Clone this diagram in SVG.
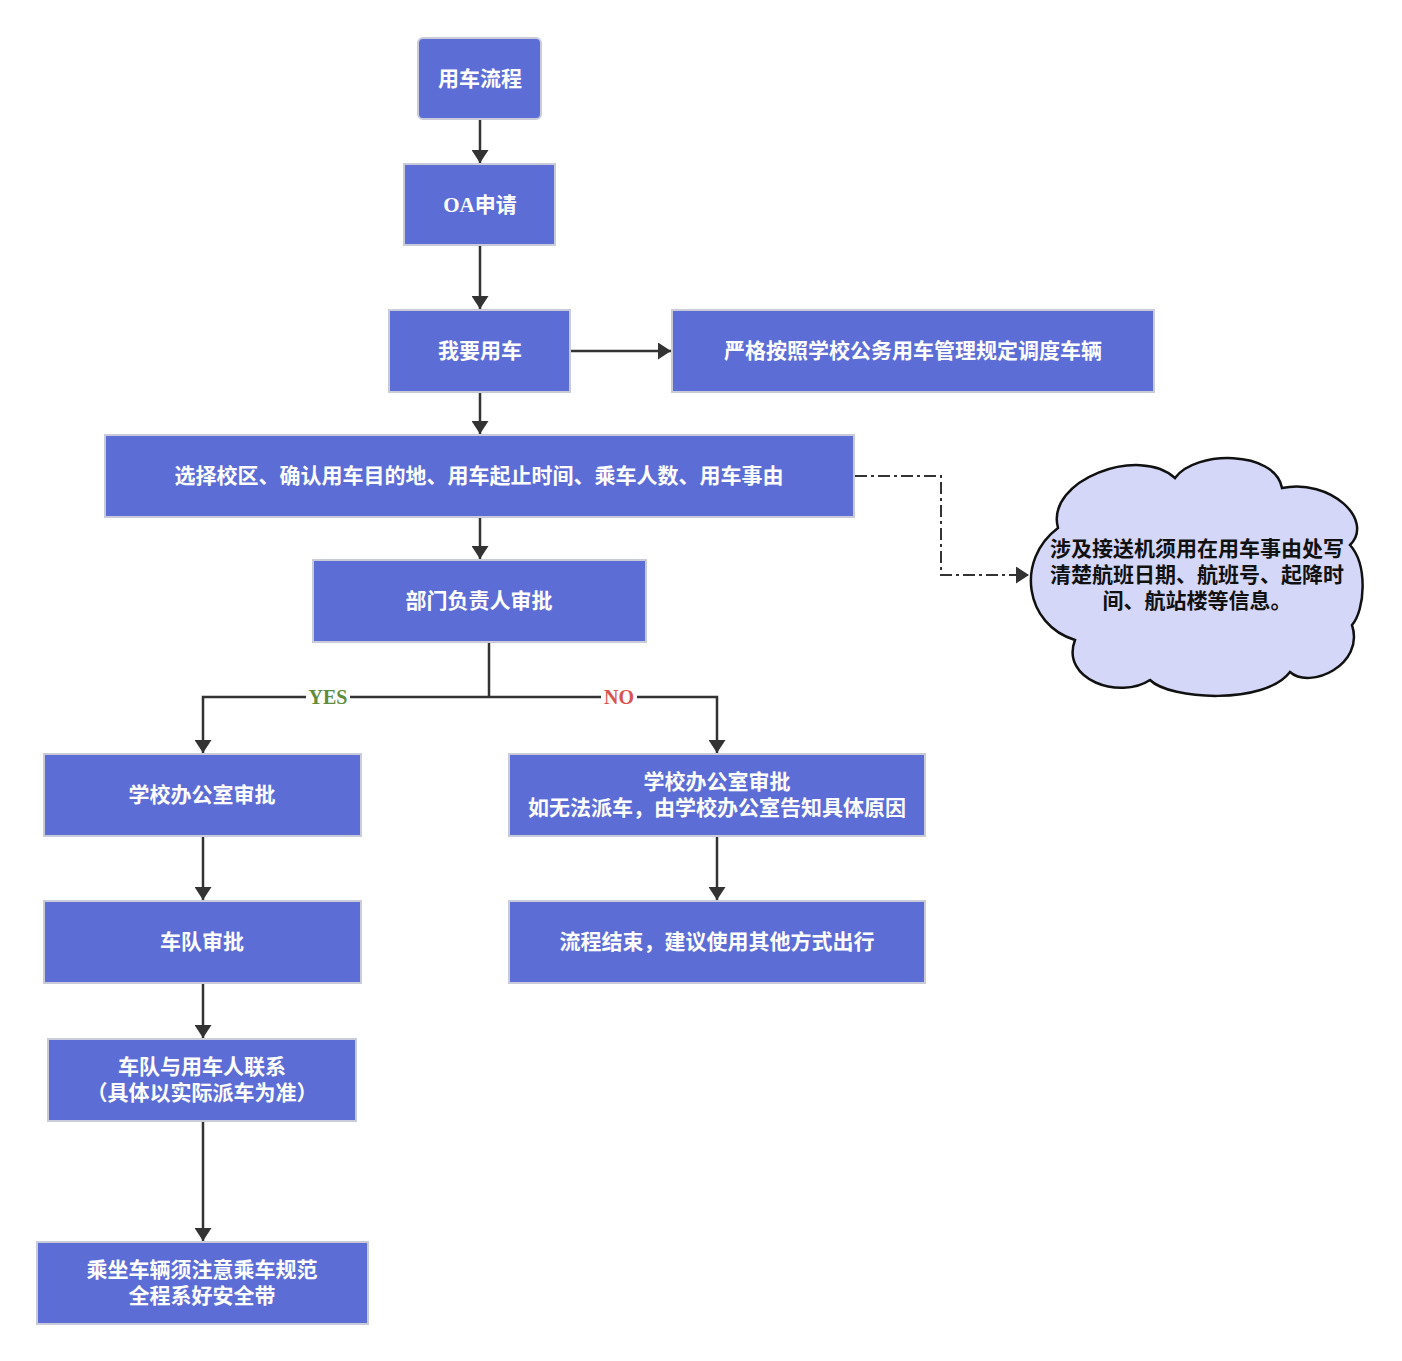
<svg xmlns="http://www.w3.org/2000/svg" width="1402" height="1361" viewBox="0 0 1402 1361">
<style>
.box{fill:#5d6dd6;stroke:#c9ccd8;stroke-width:2}
.t{fill:#ffffff;font-family:"Liberation Serif","Noto Sans CJK SC",serif;font-weight:bold;font-size:21px;text-anchor:middle;dominant-baseline:central}
.ct{fill:#111111;font-family:"Liberation Serif","Noto Sans CJK SC",serif;font-weight:bold;font-size:21px;text-anchor:middle;dominant-baseline:central}
.ln{fill:none;stroke:#333333;stroke-width:2.5}
.dd{fill:none;stroke:#333333;stroke-width:2;stroke-dasharray:12 4 3 4}
.lbl{font-family:"Liberation Serif","Noto Sans CJK SC",serif;font-weight:bold;font-size:20px;text-anchor:middle;dominant-baseline:central}
</style>
<defs>
<marker id="arr" viewBox="0 0 13 17" refX="13" refY="8.5" markerWidth="13" markerHeight="17" markerUnits="userSpaceOnUse" orient="auto">
<path d="M0,0 L13,8.5 L0,17 Z" fill="#333333"/>
</marker>
</defs>
<rect width="1402" height="1361" fill="#ffffff"/>
<g id="connectors">
<path class="ln" d="M480,120 V163" marker-end="url(#arr)"/>
<path class="ln" d="M480,246 V309" marker-end="url(#arr)"/>
<path class="ln" d="M571,351 H671" marker-end="url(#arr)"/>
<path class="ln" d="M480,393 V434" marker-end="url(#arr)"/>
<path class="ln" d="M480,518 V559" marker-end="url(#arr)"/>
<path class="ln" d="M489,643 V697"/>
<path class="ln" d="M489,697 H203 V753" marker-end="url(#arr)"/>
<path class="ln" d="M489,697 H717 V753" marker-end="url(#arr)"/>
<path class="ln" d="M203,837 V900" marker-end="url(#arr)"/>
<path class="ln" d="M717,837 V900" marker-end="url(#arr)"/>
<path class="ln" d="M203,984 V1038" marker-end="url(#arr)"/>
<path class="ln" d="M203,1122 V1241" marker-end="url(#arr)"/>
<path class="dd" d="M855,476 H941 V575 H1029" marker-end="url(#arr)"/>
<rect x="306" y="686" width="44" height="22" fill="#ffffff"/>
<text class="lbl" x="328" y="697" fill="#5e8c3a">YES</text>
<rect x="601" y="686" width="36" height="22" fill="#ffffff"/>
<text class="lbl" x="619" y="697" fill="#d9534f">NO</text>
</g>
<g id="n1"><rect class="box" x="418" y="38" width="123" height="81" rx="5"/><text class="t" x="480" y="79">用车流程</text></g>
<g id="n2"><rect class="box" x="404" y="164" width="151" height="81"/><text class="t" x="480" y="205">OA申请</text></g>
<g id="n3"><rect class="box" x="389" y="310" width="181" height="82"/><text class="t" x="480" y="351">我要用车</text></g>
<g id="n4"><rect class="box" x="672" y="310" width="482" height="82"/><text class="t" x="913" y="351">严格按照学校公务用车管理规定调度车辆</text></g>
<g id="n5"><rect class="box" x="105" y="435" width="749" height="82"/><text class="t" x="479" y="476">选择校区、确认用车目的地、用车起止时间、乘车人数、用车事由</text></g>
<g id="n6"><rect class="box" x="313" y="560" width="333" height="82"/><text class="t" x="479" y="601">部门负责人审批</text></g>
<g id="n7"><rect class="box" x="44" y="754" width="317" height="82"/><text class="t" x="202" y="795">学校办公室审批</text></g>
<g id="n8"><rect class="box" x="509" y="754" width="416" height="82"/><text class="t" x="717" y="782">学校办公室审批</text><text class="t" x="717" y="808">如无法派车，由学校办公室告知具体原因</text></g>
<g id="n9"><rect class="box" x="44" y="901" width="317" height="82"/><text class="t" x="202" y="942">车队审批</text></g>
<g id="n10"><rect class="box" x="509" y="901" width="416" height="82"/><text class="t" x="717" y="942">流程结束，建议使用其他方式出行</text></g>
<g id="n11"><rect class="box" x="48" y="1039" width="308" height="82"/><text class="t" x="202" y="1067">车队与用车人联系</text><text class="t" x="202" y="1093">（具体以实际派车为准）</text></g>
<g id="n12"><rect class="box" x="37" y="1242" width="331" height="82"/><text class="t" x="202" y="1270">乘坐车辆须注意乘车规范</text><text class="t" x="202" y="1296">全程系好安全带</text></g>
<g id="cloud">
<path d="M1058,528 C1045,480 1140,445 1175,478 C1195,450 1275,450 1282,488 C1330,478 1375,520 1350,545 C1368,565 1365,610 1352,625 C1365,665 1310,690 1290,672 C1265,705 1170,700 1150,680 C1120,700 1060,680 1075,640 C1025,625 1015,560 1058,528 Z" fill="#d4d7f7" stroke="#111111" stroke-width="2.5"/>
<text class="ct" x="1197" y="549">涉及接送机须用在用车事由处写</text>
<text class="ct" x="1197" y="575">清楚航班日期、航班号、起降时</text>
<text class="ct" x="1197" y="601">间、航站楼等信息。</text>
</g>
</svg>
